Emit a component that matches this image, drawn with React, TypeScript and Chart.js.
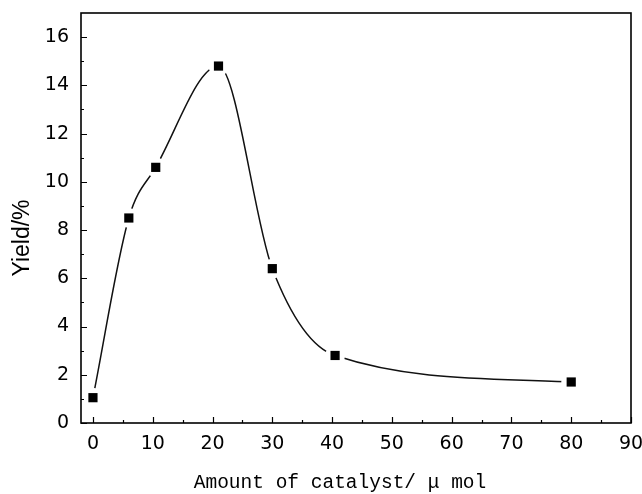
import { useEffect, useRef } from "react";
import { Chart, registerables } from "chart.js";

Chart.register(...registerables);

// Catalyst loading (µmol) and the corresponding product yield (%)
const CATALYST = [0, 6, 10.5, 21, 30, 40.5, 80];
const YIELD = [1.05, 8.5, 10.6, 14.8, 6.4, 2.8, 1.7];

const X_TICKS = [0, 10, 20, 30, 40, 50, 60, 70, 80, 90];
const X_MINOR = [5, 15, 25, 35, 45, 55, 65, 75, 85];
const Y_TICKS = [0, 2, 4, 6, 8, 10, 12, 14, 16];
const Y_MINOR = [1, 3, 5, 7, 9, 11, 13, 15];

const X_TITLE = "Amount of catalyst/ μ mol";
const Y_TITLE = "Yield/%";

const TICK_FONT = { family: "'DejaVu Sans', sans-serif", size: 19 };

// Frame, inward tick marks and axis titles
const framePlugin = {
  id: "frameAndTitles",
  afterDraw(chart: any) {
    const { ctx, chartArea, scales } = chart;
    const { left, right, top, bottom } = chartArea;
    const x = scales.x;
    const y = scales.y;
    ctx.save();
    ctx.strokeStyle = "#000";
    ctx.lineWidth = 1.6;
    ctx.strokeRect(left, top, right - left, bottom - top);

    ctx.lineWidth = 1.2;
    ctx.beginPath();
    const xTick = (v: number, len: number) => {
      const px = Math.round(x.getPixelForValue(v)) + 0.5;
      ctx.moveTo(px, bottom);
      ctx.lineTo(px, bottom - len);
    };
    const yTick = (v: number, len: number) => {
      const py = Math.round(y.getPixelForValue(v)) + 0.5;
      ctx.moveTo(left, py);
      ctx.lineTo(left + len, py);
    };
    X_TICKS.forEach((v) => xTick(v, 6));
    X_MINOR.forEach((v) => xTick(v, 3));
    Y_TICKS.forEach((v) => yTick(v, 6));
    Y_MINOR.forEach((v) => yTick(v, 3));
    ctx.stroke();

    ctx.fillStyle = "#000";
    ctx.font = "19.5px 'Liberation Mono', monospace";
    ctx.textAlign = "center";
    ctx.textBaseline = "alphabetic";
    ctx.fillText(X_TITLE, (left + right) / 2 - 16, bottom + 65);

    ctx.translate(23, (top + bottom) / 2 + 20);
    ctx.rotate(-Math.PI / 2);
    ctx.font = "23px 'Liberation Sans', Arial, sans-serif";
    ctx.textBaseline = "middle";
    ctx.fillText(Y_TITLE, 0, 0);
    ctx.restore();
  },
};

export default function App() {
  const canvasRef = useRef<HTMLCanvasElement>(null);

  useEffect(() => {
    document.body.style.margin = "0";
    const canvas = canvasRef.current;
    if (!canvas) return;
    const points = CATALYST.map((c, i) => ({ x: c, y: YIELD[i] }));

    const chart = new Chart(canvas, {
      type: "scatter",
      data: {
        datasets: [
          {
            label: "markers",
            data: points,
            showLine: false,
            pointStyle: "rect",
            pointRadius: 6.5,
            backgroundColor: "#000",
            borderColor: "#000",
            borderWidth: 0,
            order: 0,
          },
          {
            label: "gap",
            data: points,
            showLine: false,
            pointStyle: "circle",
            pointRadius: 10,
            backgroundColor: "#fff",
            borderWidth: 0,
            order: 1,
          },
          {
            label: "curve",
            data: points,
            showLine: true,
            cubicInterpolationMode: "monotone",
            borderColor: "#111",
            borderWidth: 1.5,
            pointRadius: 0,
            order: 2,
          },
        ],
      },
      options: {
        responsive: false,
        animation: false,
        events: [],
        layout: { padding: { top: 13, right: 11, left: 0, bottom: 0 } },
        plugins: {
          legend: { display: false },
          tooltip: { enabled: false },
          title: { display: false },
        },
        scales: {
          x: {
            type: "linear",
            min: -2,
            max: 90,
            grid: { display: false, drawTicks: false },
            border: { display: false },
            ticks: { font: TICK_FONT, color: "#000", padding: 10, maxRotation: 0 },
            afterBuildTicks: (scale: any) => {
              scale.ticks = X_TICKS.map((v) => ({ value: v }));
            },
            afterFit: (scale: any) => {
              scale.height = 71;
              scale.paddingLeft = 0;
              scale.paddingRight = 0;
            },
          },
          y: {
            type: "linear",
            min: 0,
            max: 17,
            grid: { display: false, drawTicks: false },
            border: { display: false },
            ticks: { font: TICK_FONT, color: "#000", padding: 12 },
            afterBuildTicks: (scale: any) => {
              scale.ticks = Y_TICKS.map((v) => ({ value: v }));
            },
            afterFit: (scale: any) => {
              scale.width = 81;
              scale.paddingTop = 0;
              scale.paddingBottom = 0;
            },
          },
        },
      },
      plugins: [framePlugin],
    });

    return () => chart.destroy();
  }, []);

  return (
    <div style={{ width: 642, height: 494, background: "#fff" }}>
      <canvas ref={canvasRef} width={642} height={494} />
    </div>
  );
}
